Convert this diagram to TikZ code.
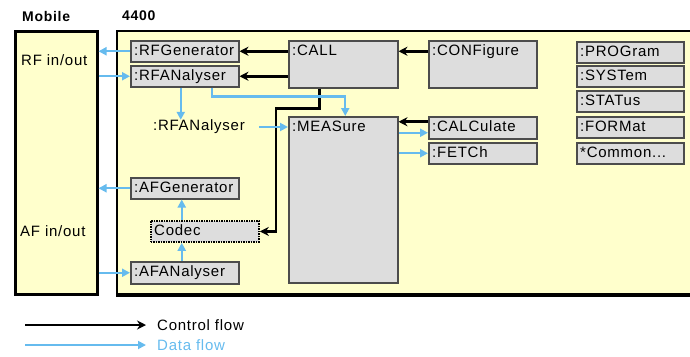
\documentclass[tikz,border=0pt]{standalone}
\usepackage{fontspec}
\setmainfont{Liberation Sans}
\newfontfamily\diafont{Liberation Sans}[LetterSpace=5.0]
\usetikzlibrary{arrows.meta}
\definecolor{panel}{RGB}{255,255,204}
\definecolor{boxgray}{RGB}{221,221,221}
\definecolor{dataflow}{RGB}{102,187,238}
\tikzset{
  cflow/.style={line width=2.6pt, -{Stealth[length=9pt,width=9pt]}},
  dflow/.style={dataflow, line width=2.2pt, -{Triangle[length=8pt,width=8pt]}},
  ybox/.style={draw=black, fill=panel, line width=2.5pt, inner sep=0pt, anchor=north west},
  lbl/.style={anchor=north west, inner sep=0pt, xshift=4pt, yshift=-4pt, text height=11pt, text depth=3pt},
  gbox/.style={draw=black!70, fill=boxgray, line width=1.5pt, inner sep=0pt, anchor=north west,
    minimum width=108pt, minimum height=21pt, label={[lbl]north west:{#1}}},
  ttl/.style={anchor=west, inner sep=0pt, font=\diafont\fontsize{14}{16}\selectfont\bfseries},
}
\begin{document}
\begin{tikzpicture}[x=1pt, y=-1pt, font=\diafont\fontsize{15}{17}\selectfont]
% pixel grid of the reference, y downwards
\useasboundingbox (0,0) rectangle (690,356);
\clip (0,0) rectangle (690,356);
\node[ttl] (mobtitle) at (22,16) {Mobile};
\node[ttl] (insttitle) at (122,16) {4400};
\node[ybox, minimum width=82pt, minimum height=263pt] (mob) at (14,30) {};
\node[ybox, line width=2pt, minimum width=600pt, minimum height=263pt] (inst) at (116,30) {};
\draw[line width=3.5pt] (inst.south west) -- (inst.south east);
\node[anchor=west, inner sep=0pt] (rfio) at (21,60) {RF in/out};
\node[anchor=west, inner sep=0pt] (afio) at (20,231) {AF in/out};
% boxes
\node[gbox={:RFGenerator}] (rfg) at (130,40) {};
\node[gbox={:RFANalyser}] (rfa) at (130,65) {};
\node[gbox={:CALL}, minimum width=109pt, minimum height=47pt] (call) at (288,40) {};
\node[gbox={:CONFigure}, minimum height=47pt] (conf) at (428,40) {};
\node[gbox={:PROGram}, minimum width=107pt] (prog) at (576,41) {};
\node[gbox={:SYSTem}, minimum width=107pt] (syst) at (576,65) {};
\node[gbox={:STATus}, minimum width=107pt] (stat) at (576,90) {};
\node[gbox={:FORMat}, minimum width=107pt] (form) at (576,116) {};
\node[gbox={*Common...}, minimum width=107pt] (comm) at (576,142) {};
\node[gbox={:MEASure}, minimum width=109pt, minimum height=166pt] (meas) at (288,116) {};
\node[gbox={:CALCulate}, minimum height=22pt] (calc) at (428,116) {};
\node[gbox={:FETCh}] (fetc) at (428,142) {};
\node[gbox={:AFGenerator}] (afg) at (130,177) {};
\node[gbox={Codec}, draw=black, densely dotted, line width=1.8pt] (codec) at (150,220) {};
\node[gbox={:AFANalyser}, minimum height=22pt] (afa) at (130,261) {};
\node[inner sep=0pt] (rfatxt) at (199,127) {:RFANalyser};
% control flow
\draw[cflow] (call.west |- rfg) -- (rfg.east);
\draw[cflow] (call.west |- rfa) -- (rfa.east);
\draw[cflow] (conf.west |- rfg) -- (call.east |- rfg);
\draw[cflow] ([yshift=6pt]calc.west) -- ([yshift=6pt]calc.west -| meas.east);
\draw[cflow] ([xshift=-24pt]call.south) -- ++(0,20) -| ([xshift=16pt]codec.east) -- (codec.east);
% data flow
\draw[dflow] (rfg.west) -- (rfg.west -| mob.east);
\draw[dflow] (rfa.west -| mob.east) -- (rfa.west);
\draw[dflow] ([xshift=-4pt]rfa.south) -- ([xshift=-4pt]rfa.south |- rfatxt.north);
\draw[dflow] ([xshift=27pt]rfa.south) -- ++(0,9) -| ([xshift=2pt]meas.north);
\draw[dflow] ([xshift=14pt]rfatxt.east) -- (meas.west |- rfatxt);
\draw[dflow] ([yshift=-5pt]calc.west -| meas.east) -- ([yshift=-5pt]calc.west);
\draw[dflow] (fetc.west -| meas.east) -- (fetc.west);
\draw[dflow] (afg.west) -- (afg.west -| mob.east);
\draw[dflow] ([xshift=-3pt]afg.south |- codec.north) -- ([xshift=-3pt]afg.south);
\draw[dflow] ([xshift=-3pt]afa.north) -- ([xshift=-3pt]afa.north |- codec.south);
\draw[dflow] (afa.west -| mob.east) -- (afa.west);
% legend
\node[anchor=west, inner sep=0pt] (ctl) at (157,325) {Control flow};
\node[anchor=west, inner sep=0pt, text=dataflow] (dat) at (157,345) {Data flow};
\coordinate (c0) at (25,325);
\coordinate (d0) at (25,345);
\draw[cflow, shorten >=11pt] (c0) -- (ctl.west);
\draw[dflow, line width=1.8pt, shorten >=11pt] (d0) -- (dat.west);
\end{tikzpicture}
\end{document}
